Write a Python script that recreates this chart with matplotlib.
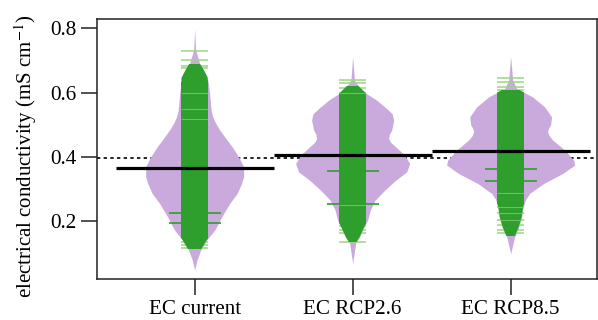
import numpy as np
import matplotlib
matplotlib.use('Agg')
import matplotlib.pyplot as plt
from matplotlib.patches import Polygon, Rectangle

plt.rcParams['font.family'] = ['Liberation Serif', 'DejaVu Serif']
plt.rcParams['mathtext.fontset'] = 'stix'
plt.rcParams['font.size'] = 15.2

groups = ['EC current', 'EC RCP2.6', 'EC RCP8.5']

# bean outlines: value levels and half widths
ec_cur_lvl = [0.049, 0.08, 0.111, 0.142, 0.173, 0.194, 0.214, 0.235, 0.256, 0.287, 0.318,
              0.339, 0.37, 0.401, 0.432, 0.463, 0.485, 0.505, 0.525, 0.546, 0.598, 0.625,
              0.65, 0.67, 0.691, 0.733, 0.80]
ec_cur_hw = [0.0, 0.015, 0.038, 0.076, 0.127, 0.15, 0.171, 0.196, 0.222, 0.269, 0.297,
             0.31, 0.31, 0.278, 0.237, 0.19, 0.158, 0.133, 0.115, 0.104, 0.095, 0.088,
             0.079, 0.058, 0.032, 0.006, 0.0]

rcp26_lvl = [0.07, 0.132, 0.152, 0.18, 0.204, 0.235, 0.266, 0.297, 0.328, 0.354, 0.38,
             0.406, 0.432, 0.446, 0.458, 0.47, 0.484, 0.515, 0.535, 0.551, 0.577, 0.598,
             0.619, 0.639, 0.712]
rcp26_hw = [0.0, 0.019, 0.044, 0.07, 0.095, 0.111, 0.142, 0.203, 0.272, 0.342, 0.361,
            0.329, 0.272, 0.24, 0.228, 0.232, 0.247, 0.26, 0.25, 0.215, 0.152, 0.085,
            0.04, 0.011, 0.0]

rcp85_lvl = [0.10, 0.152, 0.183, 0.214, 0.246, 0.268, 0.287, 0.318, 0.349, 0.375, 0.39,
             0.422, 0.453, 0.467, 0.479, 0.49, 0.50, 0.525, 0.556, 0.587, 0.613, 0.639, 0.712]
rcp85_hw = [0.0, 0.025, 0.051, 0.07, 0.079, 0.095, 0.12, 0.209, 0.329, 0.405, 0.399,
            0.342, 0.266, 0.243, 0.234, 0.24, 0.253, 0.259, 0.215, 0.139, 0.038, 0.013, 0.0]

# range of the dense block of bean lines
dense_lo = [0.115, 0.135, 0.155]
dense_hi = [0.69, 0.62, 0.61]

# single (light) bean lines outside the dense block
ec_cur_lines = [0.73, 0.702, 0.678, 0.683, 0.642, 0.646, 0.629, 0.147, 0.137, 0.128, 0.116]
rcp26_lines = [0.641, 0.629, 0.614, 0.60, 0.214, 0.200, 0.186, 0.172, 0.163, 0.137]
rcp85_lines = [0.645, 0.634, 0.619, 0.608, 0.287, 0.246, 0.225, 0.204, 0.189, 0.173, 0.163]

# faint lines visible inside the dense block
ec_cur_inner = [0.598, 0.548, 0.517]
rcp26_inner = [0.60, 0.25]
rcp85_inner = [0.287, 0.246, 0.225, 0.204]

# duplicated values (long lines)
ec_cur_dup = [0.227, 0.194]
rcp26_dup = [0.357, 0.254]
rcp85_dup = [0.363, 0.326]

means = [0.365, 0.407, 0.419]
overall_mean = 0.398

levels = [ec_cur_lvl, rcp26_lvl, rcp85_lvl]
halfw = [ec_cur_hw, rcp26_hw, rcp85_hw]
lines = [ec_cur_lines, rcp26_lines, rcp85_lines]
inner = [ec_cur_inner, rcp26_inner, rcp85_inner]
dups = [ec_cur_dup, rcp26_dup, rcp85_dup]

lilac = '#caaadc'
dark_green = '#2e9e2c'
light_green = '#9bd684'

fig = plt.figure(figsize=(5.98, 3.2), dpi=100)
ax = fig.add_axes([0.1622, 0.128, 0.836, 0.8125])

ax.axhline(overall_mean, color='black', lw=1.2, ls=(0, (2.0, 2.0)), zorder=1)

band = 0.085
for i, name in enumerate(groups):
    pos = i + 1
    lv = np.array(levels[i])
    hw = np.array(halfw[i])
    ax.fill_betweenx(lv, pos - hw, pos + hw, color=lilac, lw=0, zorder=2)
    ax.hlines(lines[i], pos - band, pos + band, color=light_green, lw=1.1, zorder=3)
    outline = np.concatenate([np.column_stack([pos - hw, lv]),
                              np.column_stack([pos + hw, lv])[::-1]])
    clip = Polygon(outline, closed=True, transform=ax.transData)
    rect = Rectangle((pos - band, dense_lo[i]), 2 * band, dense_hi[i] - dense_lo[i],
                     color=dark_green, lw=0, zorder=4)
    ax.add_patch(rect)
    rect.set_clip_path(clip)
    ax.hlines(inner[i], pos - band, pos + band, color=light_green, lw=0.8,
              alpha=0.6, zorder=5)
    ax.hlines(dups[i], pos - 0.164, pos + 0.164, color=dark_green, lw=1.2, zorder=5)
    ax.hlines(means[i], pos - 0.5, pos + 0.5, color='black', lw=2.3, zorder=6)

ax.set_xlim(0.382, 3.546)
ax.set_ylim(0.021, 0.829)
ax.set_xticks([1, 2, 3])
ax.set_xticklabels(groups)
ax.set_yticks([0.2, 0.4, 0.6, 0.8])
ax.set_yticklabels(['0.2', '0.4', '0.6', '0.8'])
ax.tick_params(length=11.5, width=1.1, pad=3.5, colors='#222222', labelcolor='black')
for s in ax.spines.values():
    s.set_linewidth(1.1)
    s.set_color('#222222')
ax.set_ylabel('electrical conductivity (mS cm$^{-1}$)', fontsize=15.0)
ax.yaxis.set_label_coords(-0.117, 0.471)

fig.savefig('out.png', dpi=100)
